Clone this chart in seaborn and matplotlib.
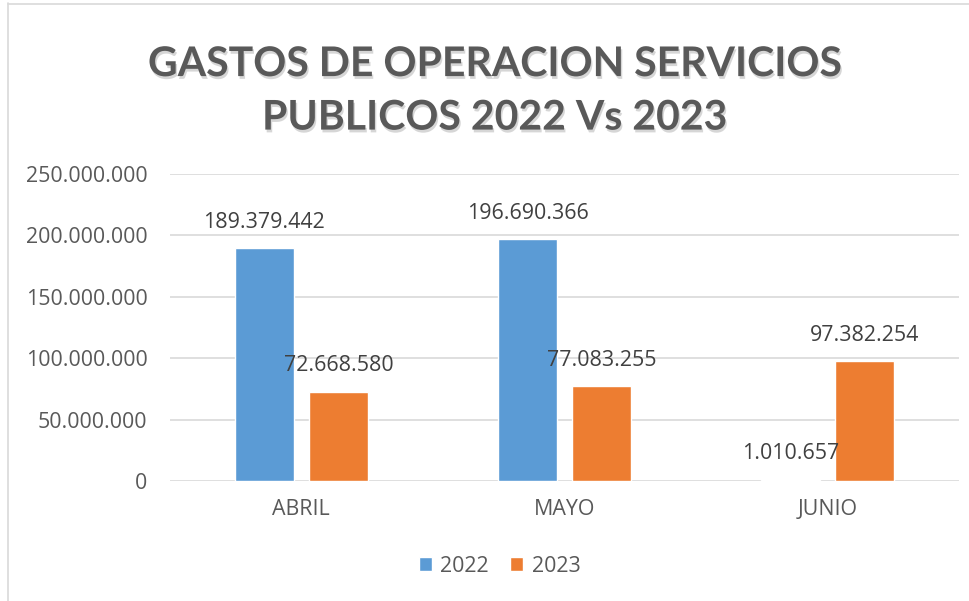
import matplotlib
matplotlib.use("Agg")
import matplotlib.pyplot as plt
import matplotlib.patheffects as pe
from matplotlib.ticker import FuncFormatter, MultipleLocator
from matplotlib.lines import Line2D
import pandas as pd
import seaborn as sns

# datos del grafico
meses = ["ABRIL", "MAYO", "JUNIO"]
gastos_2022 = [189379442, 196690366, 1010657]
gastos_2023 = [72668580, 77083255, 97382254]
anios = ["2022", "2023"]

df = pd.DataFrame({
    "Mes": meses * 2,
    "Anio": [anios[0]] * 3 + [anios[1]] * 3,
    "Valor": gastos_2022 + gastos_2023,
})

sns.set_style("white")
plt.rcParams["font.family"] = ["Open Sans", "DejaVu Sans"]

def miles(v, pos=None):
    return f"{v:,.0f}".replace(",", ".")

fig = plt.figure(figsize=(9.7, 6.01), dpi=100)
ax = fig.add_axes([0.175, 0.1997, 0.814, 0.5108])

sns.barplot(data=df, x="Mes", y="Valor", hue="Anio", ax=ax,
            palette=["#5B9BD5", "#ED7D31"], width=0.563, gap=0.2,
            saturation=1, legend=True)

ax.set_ylim(0, 250000000)
ax.set_xlim(-0.5, 2.5)
ax.yaxis.set_major_locator(MultipleLocator(50000000))
ax.yaxis.set_major_formatter(FuncFormatter(miles))
ax.grid(axis="y", color="#D9D9D9", linewidth=1.2)
ax.set_axisbelow(True)
for s in ax.spines.values():
    s.set_visible(False)
ax.set_xlabel("")
ax.set_ylabel("")
ax.tick_params(axis="both", length=0, labelsize=15.4, colors="#595959")
ax.tick_params(axis="x", pad=13)
ax.tick_params(axis="y", pad=16)

for cont, vals in zip(ax.containers, [gastos_2022, gastos_2023]):
    ax.bar_label(cont, labels=[miles(v) for v in vals], padding=11,
                 fontsize=15.4, color="#404040")

handles, labels = ax.get_legend_handles_labels()
ax.legend(handles, labels, loc="center", bbox_to_anchor=(0.515, 0.058),
          bbox_transform=fig.transFigure, ncol=2, frameon=False,
          fontsize=15.4, labelcolor="#595959", handlelength=0.6,
          handleheight=0.6, handletextpad=0.4, columnspacing=1.0)

titulo = fig.text(0.51, 0.848, "GASTOS DE OPERACION SERVICIOS\nPUBLICOS 2022 Vs 2023",
                  ha="center", va="center", fontsize=29.5, fontweight="bold",
                  color="#595959", linespacing=1.55,
                  family=["Lato", "DejaVu Sans"])
titulo.set_path_effects([pe.withSimplePatchShadow(offset=(1, -2),
                                                  shadow_rgbFace="#8C8C8C",
                                                  alpha=0.35)])

# borde del area del grafico
fig.add_artist(Line2D([8.5 / 970, 8.5 / 970], [0, 1 - 3 / 601],
                      transform=fig.transFigure, color="#D9D9D9", lw=1.2))
fig.add_artist(Line2D([8 / 970, 1], [1 - 3.5 / 601, 1 - 3.5 / 601],
                      transform=fig.transFigure, color="#D9D9D9", lw=1.2))

fig.savefig("out.png", dpi=100)
